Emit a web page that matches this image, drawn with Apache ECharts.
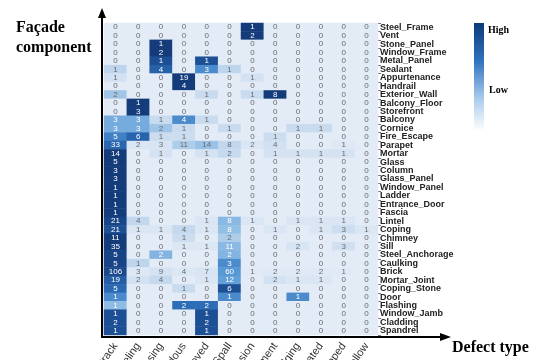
<!DOCTYPE html>
<html>
<head>
<meta charset="utf-8">
<script src="https://cdn.jsdelivr.net/npm/echarts@6/dist/echarts.min.js"></script>
<style>
html, body { margin: 0; padding: 0; background: #fff; }
#heat { width: 536px; height: 360px; }
</style>
</head>
<body>
<div id="heat"></div>
<script>
var defects = ['Crack', 'Peeling', 'Missing', 'Hazardous', 'Removed', 'Spall',
    'Corrosion', 'Displacement', 'Bulging', 'Deteriorated', 'Chipped', 'Hollow'];

var components = ['Steel_Frame', 'Vent', 'Stone_Panel', 'Window_Frame', 'Metal_Panel',
    'Sealant', 'Appurtenance', 'Handrail', 'Exterior_Wall', 'Balcony_Floor', 'Storefront',
    'Balcony', 'Cornice', 'Fire_Escape', 'Parapet', 'Mortar', 'Glass', 'Column',
    'Glass_Panel', 'Window_Panel', 'Ladder', 'Entrance_Door', 'Fascia', 'Lintel',
    'Coping', 'Chimney', 'Sill', 'Steel_Anchorage', 'Caulking', 'Brick', 'Mortar_Joint',
    'Coping_Stone', 'Door', 'Flashing', 'Window_Jamb', 'Cladding', 'Spandrel'];

// one row per component, one column per defect type
var counts = [
    [0, 0, 0, 0, 0, 0, 1, 0, 0, 0, 0, 0],
    [0, 0, 0, 0, 0, 0, 2, 0, 0, 0, 0, 0],
    [0, 0, 1, 0, 0, 0, 0, 0, 0, 0, 0, 0],
    [0, 0, 2, 0, 0, 0, 0, 0, 0, 0, 0, 0],
    [0, 0, 1, 0, 1, 0, 0, 0, 0, 0, 0, 0],
    [1, 0, 4, 0, 3, 1, 0, 0, 0, 0, 0, 0],
    [1, 0, 0, 19, 0, 0, 1, 0, 0, 0, 0, 0],
    [0, 0, 0, 4, 0, 0, 0, 0, 0, 0, 0, 0],
    [2, 0, 0, 0, 1, 0, 1, 8, 0, 0, 0, 0],
    [0, 1, 0, 0, 0, 0, 0, 0, 0, 0, 0, 0],
    [0, 3, 0, 0, 0, 0, 0, 0, 0, 0, 0, 0],
    [3, 3, 1, 4, 1, 0, 0, 0, 0, 0, 0, 0],
    [3, 3, 2, 1, 0, 1, 0, 0, 1, 1, 0, 0],
    [5, 6, 1, 1, 0, 0, 0, 1, 0, 0, 0, 0],
    [33, 2, 3, 11, 14, 8, 2, 4, 0, 0, 1, 0],
    [14, 0, 1, 0, 1, 2, 0, 1, 1, 1, 1, 0],
    [5, 0, 0, 0, 0, 0, 0, 0, 0, 0, 0, 0],
    [3, 0, 0, 0, 0, 0, 0, 0, 0, 0, 0, 0],
    [3, 0, 0, 0, 0, 0, 0, 0, 0, 0, 0, 0],
    [1, 0, 0, 0, 0, 0, 0, 0, 0, 0, 0, 0],
    [1, 0, 0, 0, 0, 0, 0, 0, 0, 0, 0, 0],
    [1, 0, 0, 0, 0, 0, 0, 0, 0, 0, 0, 0],
    [1, 0, 0, 0, 0, 0, 0, 0, 0, 0, 0, 0],
    [21, 4, 0, 0, 1, 8, 1, 0, 1, 1, 1, 0],
    [21, 1, 1, 4, 1, 8, 0, 1, 0, 1, 3, 1],
    [11, 0, 0, 1, 0, 2, 0, 0, 0, 0, 0, 0],
    [35, 0, 0, 1, 1, 11, 0, 0, 2, 0, 3, 0],
    [5, 0, 2, 0, 0, 2, 0, 0, 0, 0, 0, 0],
    [5, 1, 0, 0, 0, 3, 0, 0, 0, 0, 0, 0],
    [106, 3, 9, 4, 7, 60, 1, 2, 2, 2, 1, 0],
    [19, 2, 4, 0, 1, 12, 0, 2, 1, 1, 0, 0],
    [5, 0, 0, 1, 0, 6, 0, 0, 0, 0, 0, 0],
    [1, 0, 0, 0, 0, 1, 0, 0, 1, 0, 0, 0],
    [1, 0, 0, 2, 2, 0, 0, 0, 0, 0, 0, 0],
    [1, 0, 0, 0, 1, 0, 0, 0, 0, 0, 0, 0],
    [2, 0, 0, 0, 2, 0, 0, 0, 0, 0, 0, 0],
    [1, 0, 0, 0, 1, 0, 0, 0, 0, 0, 0, 0]
];

// colour = share of the component's defects (row normalised), label = raw count
var cells = [];
counts.forEach(function (row, y) {
    var total = row.reduce(function (a, b) { return a + b; }, 0);
    row.forEach(function (v, x) {
        var share = total ? v / total : 0;
        cells.push({
            value: [x, y, share, v],
            label: { color: share >= 0.19 ? '#ffffff' : '#6a6a6a' }
        });
    });
});

var heat = echarts.init(document.getElementById('heat'));
heat.setOption({
    animation: false,
    grid: { left: 104, right: 158, top: 23, bottom: 25, containLabel: false, outerBoundsMode: 'none' },
    xAxis: {
        type: 'category',
        data: defects,
        splitArea: { show: false },
        axisLine: { show: false },
        axisTick: { show: false },
        axisLabel: {
            interval: 0,
            rotate: 55,
            margin: 9,
            fontSize: 11,
            fontFamily: 'Liberation Sans, Arial, sans-serif',
            color: '#333'
        }
    },
    yAxis: {
        type: 'category',
        data: components,
        inverse: true,
        position: 'right',
        axisLine: { show: false },
        axisTick: { show: true, length: 3, lineStyle: { color: '#777' } },
        axisLabel: {
            interval: 0,
            margin: 2,
            fontSize: 9,
            fontWeight: 'bold',
            fontFamily: 'Liberation Sans, Arial, sans-serif',
            color: '#222'
        }
    },
    visualMap: {
        show: false,
        type: 'continuous',
        dimension: 2,
        min: 0,
        max: 0.6,
        inRange: {
            color: ['#e2ebf6', '#c3d8ee', '#8fbce4', '#5a9ad6', '#2d6db6', '#1d4f95', '#143c7a']
        }
    },
    series: [{
        type: 'heatmap',
        data: cells,
        label: {
            show: true,
            fontSize: 8,
            fontFamily: 'Liberation Sans, Arial, sans-serif',
            formatter: function (p) { return p.value[3]; }
        },
        itemStyle: { borderWidth: 0 },
        emphasis: { disabled: true }
    }],
    graphic: [
        // axis arrows
        { type: 'line', shape: { x1: 102, y1: 14, x2: 102, y2: 338 }, style: { stroke: '#000', lineWidth: 2 } },
        { type: 'polygon', shape: { points: [[98, 18], [106, 18], [102, 8]] }, style: { fill: '#000' } },
        { type: 'line', shape: { x1: 101, y1: 337, x2: 444, y2: 337 }, style: { stroke: '#000', lineWidth: 2 } },
        { type: 'polygon', shape: { points: [[440, 333], [440, 341], [451, 337]] }, style: { fill: '#000' } },
        // colour bar
        {
            type: 'rect',
            shape: { x: 474, y: 23, width: 10, height: 108 },
            style: {
                fill: new echarts.graphic.LinearGradient(0, 0, 0, 1, [
                    { offset: 0, color: '#0d3a78' },
                    { offset: 0.35, color: '#2f72bf' },
                    { offset: 0.7, color: '#a9cbec' },
                    { offset: 1, color: '#ffffff' }
                ])
            }
        },
        { type: 'text', left: 488, top: 25, style: { text: 'High', font: 'bold 10px "Liberation Serif", serif', fill: '#000' } },
        { type: 'text', left: 489, top: 85, style: { text: 'Low', font: 'bold 10px "Liberation Serif", serif', fill: '#000' } },
        // axis titles
        { type: 'text', left: 16, top: 18, style: { text: 'Façade\ncomponent', font: 'bold 16px "Liberation Serif", serif', lineHeight: 20, fill: '#000' } },
        { type: 'text', left: 452, top: 340, style: { text: 'Defect type', font: 'bold 16px "Liberation Serif", serif', fill: '#000' } }
    ]
});
</script>
</body>
</html>
